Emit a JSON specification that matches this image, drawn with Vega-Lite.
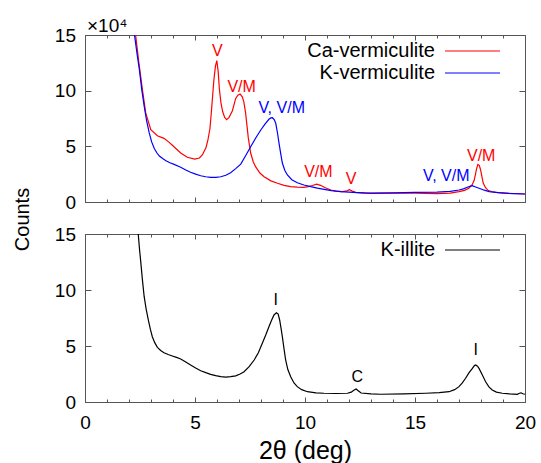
{
  "$schema": "https://vega.github.io/schema/vega-lite/v6.json",
  "autosize": {"type": "none"},
  "padding": {"left": 85, "top": 35, "right": 456, "bottom": 428},
  "spacing": 32,
  "bounds": "flush",
  "config": {
    "font": "Liberation Sans",
    "view": {"stroke": null},
    "axis": {"grid": false, "minExtent": 0, "domainColor": "#555", "tickColor": "#555", "labelColor": "black", "titleColor": "black", "labelFlush": false, "labelOverlap": false, "titleFontWeight": "normal"}
  },
  "resolve": {"scale": {"color": "independent"}, "legend": {"color": "independent"}},
  "datasets": {
    "verm": [
      {"sample":"Ca-vermiculite","deg":2.30,"counts":15.0},{"sample":"Ca-vermiculite","deg":2.45,"counts":12.5},{"sample":"Ca-vermiculite","deg":2.61,"counts":10.1},{"sample":"Ca-vermiculite","deg":2.76,"counts":8.0},{"sample":"Ca-vermiculite","deg":2.99,"counts":6.5},{"sample":"Ca-vermiculite","deg":3.29,"counts":5.95},{"sample":"Ca-vermiculite","deg":3.59,"counts":5.72},{"sample":"Ca-vermiculite","deg":3.8,"counts":5.4},{"sample":"Ca-vermiculite","deg":3.97,"counts":5.1},{"sample":"Ca-vermiculite","deg":4.35,"counts":4.4},{"sample":"Ca-vermiculite","deg":4.65,"counts":4.02},{"sample":"Ca-vermiculite","deg":4.99,"counts":3.85},{"sample":"Ca-vermiculite","deg":5.2,"counts":3.95},{"sample":"Ca-vermiculite","deg":5.34,"counts":4.25},{"sample":"Ca-vermiculite","deg":5.5,"counts":4.9},{"sample":"Ca-vermiculite","deg":5.59,"counts":5.6},{"sample":"Ca-vermiculite","deg":5.68,"counts":6.6},{"sample":"Ca-vermiculite","deg":5.74,"counts":8.0},{"sample":"Ca-vermiculite","deg":5.80,"counts":9.5},{"sample":"Ca-vermiculite","deg":5.86,"counts":11.0},{"sample":"Ca-vermiculite","deg":5.93,"counts":12.2},{"sample":"Ca-vermiculite","deg":5.99,"counts":12.7},{"sample":"Ca-vermiculite","deg":6.05,"counts":11.8},{"sample":"Ca-vermiculite","deg":6.11,"counts":10.1},{"sample":"Ca-vermiculite","deg":6.18,"counts":8.9},{"sample":"Ca-vermiculite","deg":6.26,"counts":8.1},{"sample":"Ca-vermiculite","deg":6.35,"counts":7.6},{"sample":"Ca-vermiculite","deg":6.44,"counts":7.4},{"sample":"Ca-vermiculite","deg":6.55,"counts":7.6},{"sample":"Ca-vermiculite","deg":6.70,"counts":8.2},{"sample":"Ca-vermiculite","deg":6.85,"counts":9.3},{"sample":"Ca-vermiculite","deg":6.95,"counts":9.6},{"sample":"Ca-vermiculite","deg":7.05,"counts":9.7},{"sample":"Ca-vermiculite","deg":7.15,"counts":9.45},{"sample":"Ca-vermiculite","deg":7.22,"counts":9.0},{"sample":"Ca-vermiculite","deg":7.30,"counts":8.0},{"sample":"Ca-vermiculite","deg":7.36,"counts":6.9},{"sample":"Ca-vermiculite","deg":7.42,"counts":5.8},{"sample":"Ca-vermiculite","deg":7.53,"counts":4.4},{"sample":"Ca-vermiculite","deg":7.65,"counts":3.6},{"sample":"Ca-vermiculite","deg":7.76,"counts":3.15},{"sample":"Ca-vermiculite","deg":7.95,"counts":2.6},{"sample":"Ca-vermiculite","deg":8.14,"counts":2.27},{"sample":"Ca-vermiculite","deg":8.45,"counts":1.9},{"sample":"Ca-vermiculite","deg":8.75,"counts":1.68},{"sample":"Ca-vermiculite","deg":9.05,"counts":1.5},{"sample":"Ca-vermiculite","deg":9.35,"counts":1.38},{"sample":"Ca-vermiculite","deg":9.65,"counts":1.33},{"sample":"Ca-vermiculite","deg":9.95,"counts":1.32},{"sample":"Ca-vermiculite","deg":10.15,"counts":1.38},{"sample":"Ca-vermiculite","deg":10.34,"counts":1.48},{"sample":"Ca-vermiculite","deg":10.53,"counts":1.6},{"sample":"Ca-vermiculite","deg":10.7,"counts":1.5},{"sample":"Ca-vermiculite","deg":10.9,"counts":1.3},{"sample":"Ca-vermiculite","deg":11.17,"counts":1.08},{"sample":"Ca-vermiculite","deg":11.4,"counts":0.97},{"sample":"Ca-vermiculite","deg":11.7,"counts":0.93},{"sample":"Ca-vermiculite","deg":11.9,"counts":1.0},{"sample":"Ca-vermiculite","deg":12.02,"counts":1.1},{"sample":"Ca-vermiculite","deg":12.15,"counts":0.98},{"sample":"Ca-vermiculite","deg":12.3,"counts":0.86},{"sample":"Ca-vermiculite","deg":12.7,"counts":0.8},{"sample":"Ca-vermiculite","deg":13.0,"counts":0.78},{"sample":"Ca-vermiculite","deg":14.0,"counts":0.8},{"sample":"Ca-vermiculite","deg":15.0,"counts":0.8},{"sample":"Ca-vermiculite","deg":16.0,"counts":0.76},{"sample":"Ca-vermiculite","deg":16.6,"counts":0.8},{"sample":"Ca-vermiculite","deg":17.0,"counts":0.93},{"sample":"Ca-vermiculite","deg":17.25,"counts":1.05},{"sample":"Ca-vermiculite","deg":17.45,"counts":1.23},{"sample":"Ca-vermiculite","deg":17.6,"counts":1.55},{"sample":"Ca-vermiculite","deg":17.69,"counts":1.95},{"sample":"Ca-vermiculite","deg":17.75,"counts":2.5},{"sample":"Ca-vermiculite","deg":17.80,"counts":3.0},{"sample":"Ca-vermiculite","deg":17.86,"counts":3.38},{"sample":"Ca-vermiculite","deg":17.92,"counts":3.3},{"sample":"Ca-vermiculite","deg":17.98,"counts":2.9},{"sample":"Ca-vermiculite","deg":18.04,"counts":2.3},{"sample":"Ca-vermiculite","deg":18.10,"counts":1.7},{"sample":"Ca-vermiculite","deg":18.20,"counts":1.3},{"sample":"Ca-vermiculite","deg":18.32,"counts":1.05},{"sample":"Ca-vermiculite","deg":18.5,"counts":0.92},{"sample":"Ca-vermiculite","deg":18.67,"counts":0.86},{"sample":"Ca-vermiculite","deg":19.2,"counts":0.78},{"sample":"Ca-vermiculite","deg":20.0,"counts":0.72},
      {"sample":"K-vermiculite","deg":2.25,"counts":15.0},{"sample":"K-vermiculite","deg":2.36,"counts":13.4},{"sample":"K-vermiculite","deg":2.47,"counts":11.9},{"sample":"K-vermiculite","deg":2.58,"counts":10.1},{"sample":"K-vermiculite","deg":2.69,"counts":8.6},{"sample":"K-vermiculite","deg":2.80,"counts":7.3},{"sample":"K-vermiculite","deg":2.92,"counts":6.2},{"sample":"K-vermiculite","deg":3.03,"counts":5.4},{"sample":"K-vermiculite","deg":3.15,"counts":4.8},{"sample":"K-vermiculite","deg":3.27,"counts":4.4},{"sample":"K-vermiculite","deg":3.38,"counts":4.13},{"sample":"K-vermiculite","deg":3.53,"counts":3.9},{"sample":"K-vermiculite","deg":3.68,"counts":3.7},{"sample":"K-vermiculite","deg":3.86,"counts":3.52},{"sample":"K-vermiculite","deg":4.05,"counts":3.38},{"sample":"K-vermiculite","deg":4.35,"counts":3.12},{"sample":"K-vermiculite","deg":4.58,"counts":2.88},{"sample":"K-vermiculite","deg":4.80,"counts":2.67},{"sample":"K-vermiculite","deg":5.03,"counts":2.5},{"sample":"K-vermiculite","deg":5.26,"counts":2.36},{"sample":"K-vermiculite","deg":5.49,"counts":2.27},{"sample":"K-vermiculite","deg":5.71,"counts":2.22},{"sample":"K-vermiculite","deg":5.95,"counts":2.22},{"sample":"K-vermiculite","deg":6.17,"counts":2.27},{"sample":"K-vermiculite","deg":6.40,"counts":2.4},{"sample":"K-vermiculite","deg":6.62,"counts":2.63},{"sample":"K-vermiculite","deg":6.85,"counts":3.0},{"sample":"K-vermiculite","deg":7.08,"counts":3.4},{"sample":"K-vermiculite","deg":7.30,"counts":4.15},{"sample":"K-vermiculite","deg":7.53,"counts":4.97},{"sample":"K-vermiculite","deg":7.76,"counts":5.75},{"sample":"K-vermiculite","deg":7.99,"counts":6.47},{"sample":"K-vermiculite","deg":8.18,"counts":7.0},{"sample":"K-vermiculite","deg":8.36,"counts":7.43},{"sample":"K-vermiculite","deg":8.45,"counts":7.55},{"sample":"K-vermiculite","deg":8.52,"counts":7.57},{"sample":"K-vermiculite","deg":8.60,"counts":7.4},{"sample":"K-vermiculite","deg":8.67,"counts":7.07},{"sample":"K-vermiculite","deg":8.75,"counts":6.2},{"sample":"K-vermiculite","deg":8.82,"counts":5.27},{"sample":"K-vermiculite","deg":8.90,"counts":4.3},{"sample":"K-vermiculite","deg":8.97,"counts":3.5},{"sample":"K-vermiculite","deg":9.08,"counts":2.85},{"sample":"K-vermiculite","deg":9.20,"counts":2.43},{"sample":"K-vermiculite","deg":9.40,"counts":2.0},{"sample":"K-vermiculite","deg":9.65,"counts":1.73},{"sample":"K-vermiculite","deg":9.95,"counts":1.53},{"sample":"K-vermiculite","deg":10.26,"counts":1.38},{"sample":"K-vermiculite","deg":10.56,"counts":1.25},{"sample":"K-vermiculite","deg":10.87,"counts":1.14},{"sample":"K-vermiculite","deg":11.2,"counts":1.03},{"sample":"K-vermiculite","deg":11.62,"counts":0.93},{"sample":"K-vermiculite","deg":12.0,"counts":0.88},{"sample":"K-vermiculite","deg":12.38,"counts":0.84},{"sample":"K-vermiculite","deg":13.0,"counts":0.8},{"sample":"K-vermiculite","deg":14.0,"counts":0.82},{"sample":"K-vermiculite","deg":15.0,"counts":0.86},{"sample":"K-vermiculite","deg":16.0,"counts":0.88},{"sample":"K-vermiculite","deg":16.6,"counts":0.95},{"sample":"K-vermiculite","deg":17.0,"counts":1.08},{"sample":"K-vermiculite","deg":17.2,"counts":1.18},{"sample":"K-vermiculite","deg":17.38,"counts":1.32},{"sample":"K-vermiculite","deg":17.52,"counts":1.42},{"sample":"K-vermiculite","deg":17.61,"counts":1.46},{"sample":"K-vermiculite","deg":17.75,"counts":1.35},{"sample":"K-vermiculite","deg":17.91,"counts":1.23},{"sample":"K-vermiculite","deg":18.15,"counts":1.06},{"sample":"K-vermiculite","deg":18.37,"counts":0.93},{"sample":"K-vermiculite","deg":18.8,"counts":0.84},{"sample":"K-vermiculite","deg":19.26,"counts":0.78},{"sample":"K-vermiculite","deg":20.0,"counts":0.72}
    ],
    "illite": [
      {"sample":"K-illite","deg":2.42,"counts":15.0},{"sample":"K-illite","deg":2.48,"counts":13.6},{"sample":"K-illite","deg":2.54,"counts":12.4},{"sample":"K-illite","deg":2.61,"counts":10.9},{"sample":"K-illite","deg":2.69,"counts":9.4},{"sample":"K-illite","deg":2.78,"counts":8.3},{"sample":"K-illite","deg":2.88,"counts":7.3},{"sample":"K-illite","deg":2.97,"counts":6.5},{"sample":"K-illite","deg":3.06,"counts":5.83},{"sample":"K-illite","deg":3.17,"counts":5.3},{"sample":"K-illite","deg":3.29,"counts":4.88},{"sample":"K-illite","deg":3.44,"counts":4.6},{"sample":"K-illite","deg":3.59,"counts":4.4},{"sample":"K-illite","deg":3.78,"counts":4.24},{"sample":"K-illite","deg":3.97,"counts":4.11},{"sample":"K-illite","deg":4.16,"counts":3.98},{"sample":"K-illite","deg":4.35,"counts":3.84},{"sample":"K-illite","deg":4.58,"counts":3.58},{"sample":"K-illite","deg":4.80,"counts":3.3},{"sample":"K-illite","deg":5.03,"counts":3.03},{"sample":"K-illite","deg":5.26,"counts":2.79},{"sample":"K-illite","deg":5.49,"counts":2.62},{"sample":"K-illite","deg":5.71,"counts":2.47},{"sample":"K-illite","deg":5.94,"counts":2.35},{"sample":"K-illite","deg":6.17,"counts":2.26},{"sample":"K-illite","deg":6.40,"counts":2.23},{"sample":"K-illite","deg":6.62,"counts":2.26},{"sample":"K-illite","deg":6.85,"counts":2.33},{"sample":"K-illite","deg":7.05,"counts":2.5},{"sample":"K-illite","deg":7.23,"counts":2.71},{"sample":"K-illite","deg":7.46,"counts":3.15},{"sample":"K-illite","deg":7.69,"counts":3.75},{"sample":"K-illite","deg":7.88,"counts":4.4},{"sample":"K-illite","deg":8.06,"counts":5.24},{"sample":"K-illite","deg":8.22,"counts":6.0},{"sample":"K-illite","deg":8.36,"counts":6.72},{"sample":"K-illite","deg":8.48,"counts":7.3},{"sample":"K-illite","deg":8.59,"counts":7.77},{"sample":"K-illite","deg":8.70,"counts":7.97},{"sample":"K-illite","deg":8.78,"counts":7.85},{"sample":"K-illite","deg":8.85,"counts":7.3},{"sample":"K-illite","deg":8.91,"counts":6.6},{"sample":"K-illite","deg":8.97,"counts":5.83},{"sample":"K-illite","deg":9.05,"counts":4.7},{"sample":"K-illite","deg":9.12,"counts":3.75},{"sample":"K-illite","deg":9.22,"counts":2.9},{"sample":"K-illite","deg":9.35,"counts":2.26},{"sample":"K-illite","deg":9.50,"counts":1.7},{"sample":"K-illite","deg":9.65,"counts":1.37},{"sample":"K-illite","deg":9.85,"counts":1.1},{"sample":"K-illite","deg":10.11,"counts":0.92},{"sample":"K-illite","deg":10.5,"counts":0.82},{"sample":"K-illite","deg":10.86,"counts":0.78},{"sample":"K-illite","deg":11.4,"counts":0.76},{"sample":"K-illite","deg":11.93,"counts":0.78},{"sample":"K-illite","deg":12.1,"counts":0.88},{"sample":"K-illite","deg":12.22,"counts":1.05},{"sample":"K-illite","deg":12.32,"counts":1.16},{"sample":"K-illite","deg":12.42,"counts":1.0},{"sample":"K-illite","deg":12.55,"counts":0.8},{"sample":"K-illite","deg":13.0,"counts":0.72},{"sample":"K-illite","deg":13.44,"counts":0.69},{"sample":"K-illite","deg":14.5,"counts":0.72},{"sample":"K-illite","deg":15.49,"counts":0.78},{"sample":"K-illite","deg":16.1,"counts":0.84},{"sample":"K-illite","deg":16.55,"counts":0.92},{"sample":"K-illite","deg":16.8,"counts":1.1},{"sample":"K-illite","deg":17.0,"counts":1.37},{"sample":"K-illite","deg":17.15,"counts":1.7},{"sample":"K-illite","deg":17.30,"counts":2.12},{"sample":"K-illite","deg":17.45,"counts":2.6},{"sample":"K-illite","deg":17.61,"counts":3.0},{"sample":"K-illite","deg":17.70,"counts":3.25},{"sample":"K-illite","deg":17.76,"counts":3.3},{"sample":"K-illite","deg":17.84,"counts":3.2},{"sample":"K-illite","deg":17.91,"counts":3.0},{"sample":"K-illite","deg":18.05,"counts":2.45},{"sample":"K-illite","deg":18.21,"counts":1.81},{"sample":"K-illite","deg":18.36,"counts":1.35},{"sample":"K-illite","deg":18.51,"counts":1.07},{"sample":"K-illite","deg":18.7,"counts":0.88},{"sample":"K-illite","deg":18.97,"counts":0.78},{"sample":"K-illite","deg":19.3,"counts":0.72},{"sample":"K-illite","deg":19.65,"counts":0.69},{"sample":"K-illite","deg":19.75,"counts":0.78},{"sample":"K-illite","deg":19.82,"counts":0.82},{"sample":"K-illite","deg":19.9,"counts":0.74},{"sample":"K-illite","deg":20.0,"counts":0.69}
    ],
    "vermLabels": [
      {"sample":"Ca-vermiculite","label":"V","deg":6.02,"counts":13.6},
      {"sample":"Ca-vermiculite","label":"V/M","deg":7.12,"counts":10.33},
      {"sample":"K-vermiculite","label":"V, V/M","deg":8.94,"counts":8.45},
      {"sample":"Ca-vermiculite","label":"V/M","deg":10.61,"counts":2.65},
      {"sample":"Ca-vermiculite","label":"V","deg":12.10,"counts":2.07},
      {"sample":"K-vermiculite","label":"V, V/M","deg":16.42,"counts":2.34},
      {"sample":"Ca-vermiculite","label":"V/M","deg":18.01,"counts":4.13}
    ],
    "illiteLabels": [
      {"sample":"K-illite","label":"I","deg":8.67,"counts":9.1},
      {"sample":"K-illite","label":"C","deg":12.38,"counts":2.19},
      {"sample":"K-illite","label":"I","deg":17.76,"counts":4.64}
    ]
  },
  "vconcat": [
    {
      "width": 440,
      "height": 167,
      "title": {"text": "×10⁴", "anchor": "start", "frame": "group", "fontSize": 19, "fontWeight": "normal", "offset": -24.5, "dx": 2, "baseline": "alphabetic", "color": "black"},
      "layer": [
        {
          "data": {"name": "verm"},
          "mark": {"type": "line", "strokeWidth": 1.2, "clip": true},
          "encoding": {
            "x": {"field": "deg", "type": "quantitative", "scale": {"domain": [0, 20], "nice": false},
              "axis": {"orient": "bottom", "values": [0,1,2,3,4,5,6,7,8,9,10,11,12,13,14,15,16,17,18,19,20], "labels": false, "title": null,
                "tickSize": {"condition": {"test": "datum.value % 5 === 0", "value": -5}, "value": -3}}},
            "y": {"field": "counts", "type": "quantitative", "scale": {"domain": [0, 15], "nice": false},
              "axis": {"orient": "left", "values": [0, 5, 10, 15], "tickSize": -6, "labelFontSize": 19, "labelPadding": 15.5,
                "title": "Counts", "titleFontSize": 20, "titleAngle": -90, "titleX": -63, "titleY": 184, "titleBaseline": "middle", "titleAlign": "center"}},
            "color": {"field": "sample", "type": "nominal",
              "scale": {"domain": ["Ca-vermiculite", "K-vermiculite"], "range": ["#ff0000", "#0000ff"]},
              "legend": {"orient": "none", "legendX": 360, "legendY": 4, "title": null, "symbolType": "M-2.5,0H2.5", "symbolSize": 484, "symbolStrokeWidth": 1.2,
                "labelFontSize": 20, "labelAlign": "right", "rowPadding": 0, "padding": 0, "labelLimit": 300, "labelColor": "black",
                "encode": {
                  "symbols": {"update": {"x": {"value": 27.5}, "fill": {"value": "transparent"}, "stroke": {"signal": "datum.value === 'Ca-vermiculite' ? '#ff0000' : '#0000ff'"}}},
                  "labels": {"update": {"x": {"value": -10}}}
                }}}
          }
        },
        {
          "data": {"name": "vermLabels"},
          "mark": {"type": "text", "fontSize": 16, "baseline": "middle", "align": "center"},
          "encoding": {
            "x": {"field": "deg", "type": "quantitative",
              "axis": {"orient": "top", "values": [0,1,2,3,4,5,6,7,8,9,10,11,12,13,14,15,16,17,18,19,20], "labels": false, "title": null,
                "tickSize": {"condition": {"test": "datum.value % 5 === 0", "value": -5}, "value": -3}}},
            "y": {"field": "counts", "type": "quantitative",
              "axis": {"orient": "right", "values": [0, 5, 10, 15], "labels": false, "title": null, "tickSize": -6}},
            "text": {"field": "label"},
            "color": {"condition": {"test": "datum.sample === 'Ca-vermiculite'", "value": "#ff0000"}, "value": "#0000ff"}
          }
        }
      ],
      "resolve": {"axis": {"x": "independent", "y": "independent"}}
    },
    {
      "width": 440,
      "height": 168,
      "layer": [
        {
          "data": {"name": "illite"},
          "mark": {"type": "line", "strokeWidth": 1.2, "clip": true},
          "encoding": {
            "x": {"field": "deg", "type": "quantitative", "scale": {"domain": [0, 20], "nice": false},
              "axis": {"orient": "bottom", "values": [0,1,2,3,4,5,6,7,8,9,10,11,12,13,14,15,16,17,18,19,20], "labelFontSize": 19, "labelPadding": 16,
                "labelExpr": "datum.value % 5 === 0 ? datum.label : ''",
                "tickSize": {"condition": {"test": "datum.value % 5 === 0", "value": -5}, "value": -3},
                "title": "2θ (deg)", "titleFontSize": 25, "titleY": 48, "titleBaseline": "middle"}},
            "y": {"field": "counts", "type": "quantitative", "scale": {"domain": [0, 15], "nice": false},
              "axis": {"orient": "left", "values": [0, 5, 10, 15], "tickSize": -6, "labelFontSize": 19, "labelPadding": 15.5, "title": null}},
            "color": {"field": "sample", "type": "nominal",
              "scale": {"domain": ["K-illite"], "range": ["#000000"]},
              "legend": {"orient": "none", "legendX": 360, "legendY": 4, "title": null, "symbolType": "M-2.5,0H2.5", "symbolSize": 484, "symbolStrokeWidth": 1.2,
                "labelFontSize": 20, "labelAlign": "right", "rowPadding": 0, "padding": 0, "labelLimit": 300, "labelColor": "black",
                "encode": {
                  "symbols": {"update": {"x": {"value": 27.5}, "fill": {"value": "transparent"}, "stroke": {"value": "#000000"}}},
                  "labels": {"update": {"x": {"value": -10}}}
                }}}
          }
        },
        {
          "data": {"name": "illiteLabels"},
          "mark": {"type": "text", "fontSize": 16, "baseline": "middle", "align": "center", "color": "black"},
          "encoding": {
            "x": {"field": "deg", "type": "quantitative",
              "axis": {"orient": "top", "values": [0,1,2,3,4,5,6,7,8,9,10,11,12,13,14,15,16,17,18,19,20], "labels": false, "title": null,
                "tickSize": {"condition": {"test": "datum.value % 5 === 0", "value": -5}, "value": -3}}},
            "y": {"field": "counts", "type": "quantitative",
              "axis": {"orient": "right", "values": [0, 5, 10, 15], "labels": false, "title": null, "tickSize": -6}},
            "text": {"field": "label"}
          }
        }
      ],
      "resolve": {"axis": {"x": "independent", "y": "independent"}}
    }
  ]
}
